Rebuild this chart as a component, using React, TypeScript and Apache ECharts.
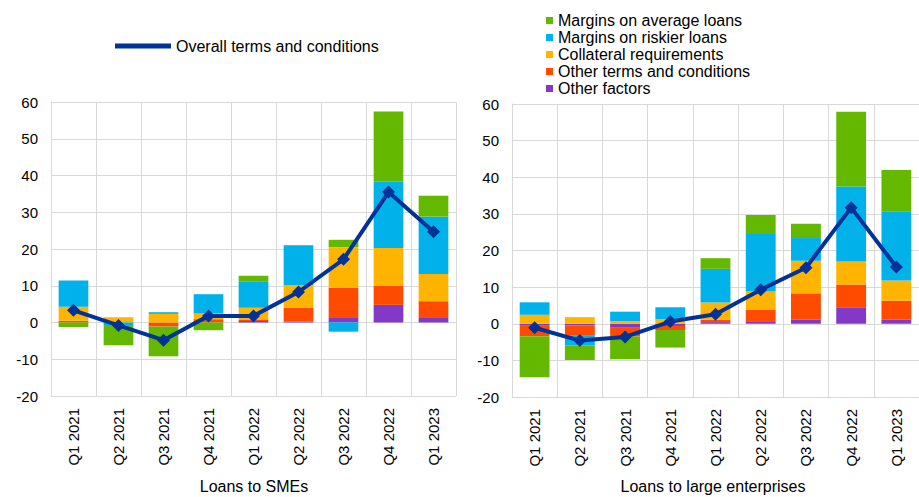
import React, { useEffect, useRef } from "react";
import * as echarts from "echarts";

const categories = ["Q1 2021", "Q2 2021", "Q3 2021", "Q4 2021", "Q1 2022", "Q2 2022", "Q3 2022", "Q4 2022", "Q1 2023"];

// Loans to SMEs
const smeOtherFactors = [0, 0, 0, 0, 0.4, 0.3, 1.45, 4.8, 1.45];
const smeOtherTerms = [0.45, 0, -1.1, 0.9, 0.3, 3.7, 8.05, 5.2, 4.35];
const smeCollateral = [3.85, 1.45, 2.35, 1.55, 3.3, 6.2, 11.0, 10.3, 7.4];
const smeRiskier = [7.1, -0.7, 0.45, 5.25, 7.2, 10.8, -2.5, 18.0, 15.6];
const smeAverage = [-1.2, -5.5, -8.1, -2.1, 1.5, 0, 2.0, 19.1, 5.7];
const smeOverall = [3.3, -0.8, -4.8, 1.8, 1.8, 8.3, 17.2, 35.5, 24.7];

// Loans to large enterprises
const leOtherFactors = [-0.55, -0.5, -1.1, -0.6, 0.45, 0.7, 1.2, 4.5, 1.2];
const leOtherTerms = [-2.85, -2.6, -2.4, -1.1, 0.65, 3.1, 7.1, 6.2, 5.1];
const leCollateral = [2.45, 1.8, 0.7, 1.3, 4.7, 5.0, 8.9, 6.3, 5.5];
const leRiskier = [3.4, -2.8, 2.6, 3.2, 9.2, 15.7, 6.2, 20.5, 18.9];
const leAverage = [-11.2, -4.0, -6.2, -4.8, 2.9, 5.2, 3.9, 20.4, 11.3];
const leOverall = [-1.1, -4.6, -3.6, 0.6, 2.6, 9.3, 15.3, 31.7, 15.5];

const yTicks = { min: -20, max: 60, interval: 10 };

const names = {
  average: "Margins on average loans",
  riskier: "Margins on riskier loans",
  collateral: "Collateral requirements",
  otherTerms: "Other terms and conditions",
  otherFactors: "Other factors",
  overall: "Overall terms and conditions",
};

const colors = {
  average: "#65B800",
  riskier: "#00B1EA",
  collateral: "#FFB400",
  otherTerms: "#FF4B00",
  otherFactors: "#8139C6",
  overall: "#003299",
};

const FONT = 'Arial, "Liberation Sans", sans-serif';
const GRID_COLOR = "#D9D9D9";

export default function App() {
  const ref = useRef<HTMLDivElement>(null);

  useEffect(() => {
    if (!ref.current) return;
    const chart = echarts.init(ref.current, undefined, { renderer: "svg" });

    const barSeries = (idx: number, stack: string, data: { key: keyof typeof names; values: number[] }[]) =>
      data.map((d) => ({
        type: "bar",
        name: names[d.key],
        data: d.values,
        stack,
        xAxisIndex: idx,
        yAxisIndex: idx,
        barWidth: "66%",
        itemStyle: { color: colors[d.key] },
      }));

    const lineSeries = (idx: number, values: number[]) => ({
      type: "line",
      name: names.overall,
      data: values,
      xAxisIndex: idx,
      yAxisIndex: idx,
      symbol: "diamond",
      symbolSize: 13,
      lineStyle: { color: colors.overall, width: 4 },
      itemStyle: { color: colors.overall },
      z: 5,
    });

    const xAxis = (idx: number) => ({
      type: "category",
      gridIndex: idx,
      data: categories,
      axisLine: { show: true, lineStyle: { color: GRID_COLOR } },
      axisTick: { show: false },
      splitLine: { show: true, interval: 0, lineStyle: { color: GRID_COLOR, width: 1 } },
      axisLabel: { rotate: 90, margin: 12, fontSize: 15, color: "#000", fontFamily: FONT, interval: 0 },
    });

    const yAxis = (idx: number) => ({
      type: "value",
      gridIndex: idx,
      min: yTicks.min,
      max: yTicks.max,
      interval: yTicks.interval,
      axisLine: { show: true, lineStyle: { color: GRID_COLOR } },
      axisTick: { show: false },
      splitLine: { show: true, lineStyle: { color: GRID_COLOR, width: 1 } },
      axisLabel: { margin: 13, fontSize: 15, color: "#000", fontFamily: FONT },
    });

    const order = (v: {
      otherFactors: number[];
      otherTerms: number[];
      collateral: number[];
      riskier: number[];
      average: number[];
    }) => [
      { key: "otherFactors" as const, values: v.otherFactors },
      { key: "otherTerms" as const, values: v.otherTerms },
      { key: "collateral" as const, values: v.collateral },
      { key: "riskier" as const, values: v.riskier },
      { key: "average" as const, values: v.average },
    ];

    chart.setOption({
      animation: false,
      textStyle: { fontFamily: FONT },
      grid: [
        { left: 51, right: 463, top: 102, bottom: 101 },
        { left: 512, right: -9, top: 104, bottom: 100 },
      ],
      title: [
        {
          text: "Loans to SMEs",
          left: 254,
          top: 478,
          padding: 0,
          textAlign: "center",
          textStyle: { fontSize: 16, fontWeight: "normal", color: "#000", fontFamily: FONT },
        },
        {
          text: "Loans to large enterprises",
          left: 713,
          top: 478,
          padding: 0,
          textAlign: "center",
          textStyle: { fontSize: 16, fontWeight: "normal", color: "#000", fontFamily: FONT },
        },
      ],
      legend: [
        {
          data: [names.overall],
          left: 115,
          top: 38,
          padding: 0,
          itemWidth: 56,
          itemHeight: 5,
          icon: "path://M0,0 L56,0 L56,5 L0,5 Z",
          textStyle: { fontSize: 16, color: "#000", fontFamily: FONT },
        },
        {
          data: [names.average, names.riskier, names.collateral, names.otherTerms, names.otherFactors],
          orient: "vertical",
          left: 546,
          top: 12,
          padding: 0,
          itemGap: 0,
          itemWidth: 7,
          itemHeight: 7,
          icon: "rect",
          textStyle: { fontSize: 16, lineHeight: 17, color: "#000", fontFamily: FONT },
        },
      ],
      xAxis: [xAxis(0), xAxis(1)],
      yAxis: [yAxis(0), yAxis(1)],
      series: [
        ...barSeries(
          0,
          "sme",
          order({
            otherFactors: smeOtherFactors,
            otherTerms: smeOtherTerms,
            collateral: smeCollateral,
            riskier: smeRiskier,
            average: smeAverage,
          })
        ),
        ...barSeries(
          1,
          "le",
          order({
            otherFactors: leOtherFactors,
            otherTerms: leOtherTerms,
            collateral: leCollateral,
            riskier: leRiskier,
            average: leAverage,
          })
        ),
        lineSeries(0, smeOverall),
        lineSeries(1, leOverall),
      ],
    });

    return () => chart.dispose();
  }, []);

  return (
    <div
      ref={ref}
      style={{ position: "absolute", left: 0, top: 0, width: 919, height: 497, background: "#fff" }}
    />
  );
}
